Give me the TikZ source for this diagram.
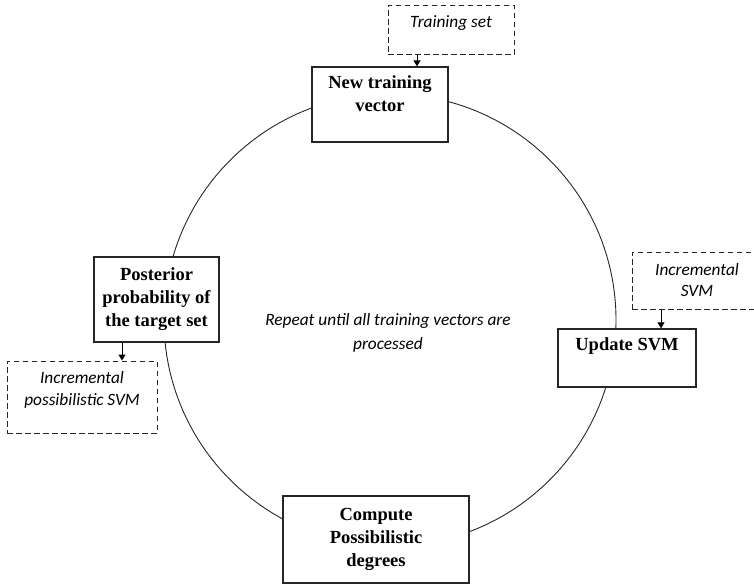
\documentclass[tikz,border=0pt]{standalone}
\usepackage{fontspec}
\setmainfont{Liberation Serif}
\newfontfamily\notefont{Carlito}
\usetikzlibrary{arrows.meta, positioning}

\begin{document}
\begin{tikzpicture}[x=1pt, y=-1pt,
  stepbox/.style={rectangle, draw=black!85, line width=1.3pt, fill=white, align=center, inner sep=0pt, font=\fontsize{18.5}{23}\selectfont\bfseries},
  boxtxt/.style={align=center, inner sep=0pt, font=\fontsize{18.5}{23}\selectfont\bfseries},
  inbox/.style={rectangle, draw=black!85, line width=1pt, dash pattern=on 5.5pt off 3.5pt, fill=white, inner sep=0pt},
  intxt/.style={align=center, inner sep=0pt, font=\notefont\itshape\fontsize{17.3}{21.5}\selectfont},
  arr/.style={draw=black, line width=1pt, -{Triangle[length=6pt, width=7pt]}},
]
\useasboundingbox (0,0) rectangle (754,584);

% the loop
\node[circle, draw=black!85, line width=0.9pt, minimum size=452pt, inner sep=0pt] (loop) at (390,320) {};
\node[font=\notefont\itshape\fontsize{17.3}{24.5}\selectfont, align=center] (repeat) at (388,333)
  {Repeat until all training vectors are\\processed};

% steps
\node[stepbox, minimum width=136pt, minimum height=75pt] (newvec) at (380,104.5) {};
\node[boxtxt, below=9pt of newvec.north] (newvectxt) {New training\\vector};

\node[stepbox, minimum width=138pt, minimum height=58pt] (update) at (627,358) {};
\node[boxtxt, below=9pt of update.north] (updatetxt) {Update SVM};

\node[stepbox, minimum width=186pt, minimum height=87pt] (compute) at (376,539.5) {Compute\\Possibilistic\\degrees};
\node[stepbox, minimum width=125pt, minimum height=85pt] (post) at (156.5,299.5) {Posterior\\probability of\\the target set};

% inputs
\node[inbox, minimum width=126pt, minimum height=49pt] (trainset) at (451,29.5) {};
\node[intxt] (trainsettxt) at (451,23) {Training set};
\node[inbox, minimum width=130pt, minimum height=57pt] (incsvm) at (697,280.5) {};
\node[intxt] (incsvmtxt) at (697,280) {Incremental\\SVM};
\node[inbox, minimum width=150pt, minimum height=72pt] (incposs) at (82,397) {};
\node[intxt] (incposstxt) at (82,390) {Incremental\\possibilistic SVM};

\draw[arr] ([xshift=-34pt]trainset.south) -- ([xshift=-34pt]trainset.south |- newvec.north);
\draw[arr] ([xshift=-36pt]incsvm.south) -- ([xshift=-36pt]incsvm.south |- update.north);
\draw[arr] ([xshift=-34.5pt]post.south) -- ([xshift=-34.5pt]post.south |- incposs.north);
\end{tikzpicture}
\end{document}
